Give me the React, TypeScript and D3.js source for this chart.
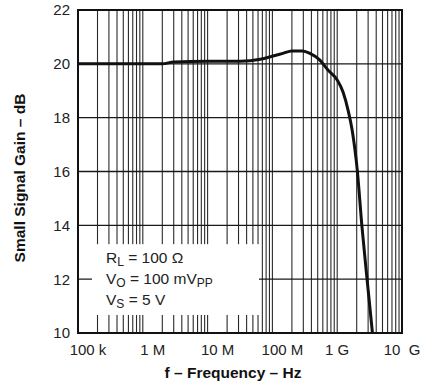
import * as d3 from "d3";
import React, { useEffect, useRef } from "react";

// frequency response
const freqHz = [
  1e5, 2e6, 3e6, 1e7, 3.2e7, 6.5e7, 1.02e8, 1.45e8, 2e8, 2.9e8, 3.8e8, 5.4e8,
  7.2e8, 1e9, 1.23e9, 1.47e9, 1.7e9, 2.04e9, 2.4e9, 2.9e9, 3.5e9,
];
const gainDb = [
  20.0, 20.0, 20.07, 20.1, 20.1, 20.17, 20.29, 20.39, 20.48, 20.48, 20.39,
  20.14, 19.77, 19.4, 18.95, 18.28, 17.54, 16.05, 14.0, 11.96, 10.0,
];

const xTickValues = [1e5, 1e6, 1e7, 1e8, 1e9, 1e10];
const xTickLabels = ["100 k", "1 M", "10 M", "100 M", "1 G", "10  G"];
const yTickValues = [10, 12, 14, 16, 18, 20, 22];

const W = 431;
const H = 384;
const FONT = "'Liberation Sans', Arial, sans-serif";

const App: React.FC = () => {
  const ref = useRef<SVGSVGElement | null>(null);

  useEffect(() => {
    const margin = { top: 10, right: 29, bottom: 51, left: 78 };
    const width = W - margin.left - margin.right;
    const height = H - margin.top - margin.bottom;

    const svg = d3.select(ref.current).html("");
    svg.append("rect").attr("width", W).attr("height", H).attr("fill", "#fff");

    const g = svg
      .append("g")
      .attr("transform", `translate(${margin.left},${margin.top})`);

    const x = d3.scaleLog().domain([1e5, 1e10]).range([0, width]);
    const y = d3.scaleLinear().domain([10, 22]).range([height, 0]);

    // grid: every 1..9 multiple per decade
    g.selectAll(".vgrid")
      .data(x.ticks())
      .join("line")
      .attr("x1", (d) => x(d))
      .attr("x2", (d) => x(d))
      .attr("y1", 0)
      .attr("y2", height)
      .attr("stroke", "#2a2a2a")
      .attr("stroke-width", 1.1);

    g.selectAll(".hgrid")
      .data(yTickValues)
      .join("line")
      .attr("x1", 0)
      .attr("x2", width)
      .attr("y1", (d) => y(d))
      .attr("y2", (d) => y(d))
      .attr("stroke", "#1a1a1a")
      .attr("stroke-width", 1.3);

    // white box behind the conditions text (covers the grid)
    g.append("rect")
      .attr("x", 14)
      .attr("y", y(13.3))
      .attr("width", 167)
      .attr("height", y(10.67) - y(13.3))
      .attr("fill", "#fff");

    // curve
    const line = d3
      .line<number>()
      .x((_d, i) => x(freqHz[i]))
      .y((d) => y(d))
      .curve(d3.curveMonotoneX);

    g.append("path")
      .datum(gainDb)
      .attr("fill", "none")
      .attr("stroke", "#111")
      .attr("stroke-width", 3)
      .attr("stroke-linejoin", "round")
      .attr("d", line);

    // frame
    g.append("rect")
      .attr("width", width)
      .attr("height", height)
      .attr("fill", "none")
      .attr("stroke", "#111")
      .attr("stroke-width", 2);

    // y tick labels
    g.selectAll(".ylab")
      .data(yTickValues)
      .join("text")
      .attr("x", -8)
      .attr("y", (d) => y(d))
      .attr("dy", "0.36em")
      .attr("text-anchor", "end")
      .attr("font-family", FONT)
      .attr("font-size", 15)
      .attr("fill", "#222")
      .text((d) => d);

    // x tick labels
    g.selectAll(".xlab")
      .data(xTickValues)
      .join("text")
      .attr("x", (d) => x(d))
      .attr("dx", (_d, i) => (i < 4 ? 10 : 0))
      .attr("y", height + 22)
      .attr("text-anchor", "middle")
      .attr("font-family", FONT)
      .attr("font-size", 15)
      .attr("fill", "#222")
      .style("white-space", "pre")
      .text((_d, i) => xTickLabels[i]);

    // axis titles
    svg
      .append("text")
      .attr("x", 233)
      .attr("y", 378)
      .attr("text-anchor", "middle")
      .attr("font-family", FONT)
      .attr("font-weight", "bold")
      .attr("font-size", 15.5)
      .attr("fill", "#111")
      .text("f – Frequency – Hz");

    svg
      .append("text")
      .attr("transform", "translate(25,178) rotate(-90)")
      .attr("text-anchor", "middle")
      .attr("font-family", FONT)
      .attr("font-weight", "bold")
      .attr("font-size", 15.5)
      .attr("fill", "#111")
      .text("Small Signal Gain – dB");

    // test conditions
    const cond = [
      ["R", "L", " = 100 Ω"],
      ["V", "O", " = 100 mV", "PP"],
      ["V", "S", " = 5 V"],
    ];
    cond.forEach((parts, i) => {
      const t = svg
        .append("text")
        .attr("x", 106)
        .attr("y", 263 + i * 21)
        .attr("font-family", FONT)
        .attr("font-size", 15.5)
        .attr("fill", "#222");
      t.append("tspan").text(parts[0]);
      t.append("tspan").attr("dy", 3).attr("font-size", 12).text(parts[1]);
      t.append("tspan").attr("dy", -3).text(parts[2]);
      if (parts[3]) {
        t.append("tspan").attr("dy", 3).attr("font-size", 12).text(parts[3]);
      }
    });
  }, []);

  return (
    <svg
      ref={ref}
      width={W}
      height={H}
      style={{ position: "absolute", left: 0, top: 0, display: "block" }}
    />
  );
};

export default App;
